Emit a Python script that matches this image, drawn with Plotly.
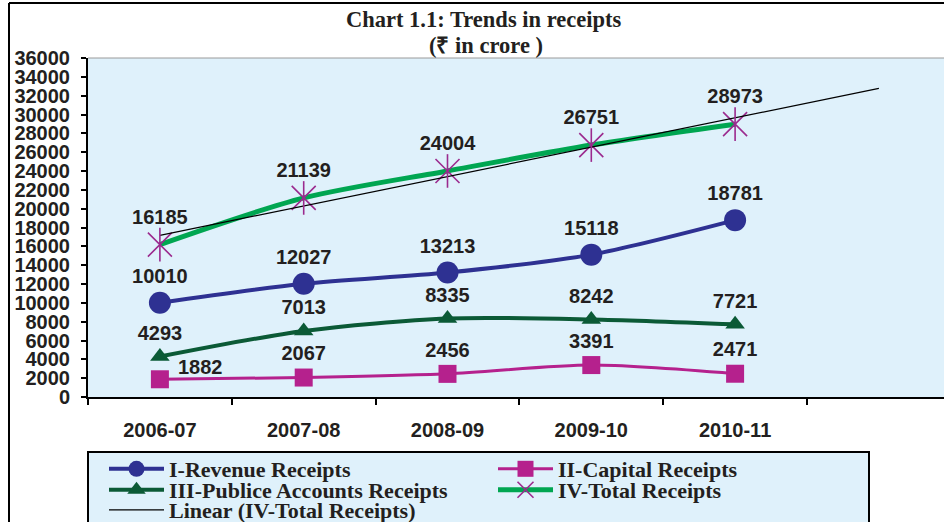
import numpy as np
import plotly.graph_objects as go

# ---------------- data ----------------
years = ["2006-07", "2007-08", "2008-09", "2009-10", "2010-11"]
forecast_slot = " "  # empty 6th category: the linear trend is forecast one period ahead
revenue = [10010, 12027, 13213, 15118, 18781]
capital = [1882, 2067, 2456, 3391, 2471]
public_acc = [4293, 7013, 8335, 8242, 7721]
total = [16185, 21139, 24004, 26751, 28973]
y_tick_values = list(range(0, 36001, 2000))
y_tick_labels = [str(v) for v in y_tick_values]

names = [
    "I-Revenue Receipts",
    "II-Capital Receipts",
    "III-Publice Accounts Receipts",
    "IV-Total Receipts",
    "Linear (IV-Total Receipts)",
]

# linear trend of total receipts (Excel style, periods 1..5, forecast 1 forward)
periods = np.arange(1, len(total) + 1)
slope, intercept = np.polyfit(periods, total, 1)
trend_periods = np.arange(1, len(total) + 2)
trend_vals = slope * trend_periods + intercept
categories = years + [forecast_slot]

# ---------------- layout helpers ----------------
W, H = 944, 522
L, T, R_EDGE, B_EDGE = 88, 58, 944, 397
PW, PH = R_EDGE - L, B_EDGE - T


def px(X):
    return (X - L) / PW


def py(Y):
    return (B_EDGE - Y) / PH


NAVY = "#2e3192"
MAGENTA = "#b5218d"
DKGREEN = "#0b5a36"
GREEN = "#00a651"
PURPLE = "#9b2a8e"
TXT = "#231f20"
BG = "#dff1fb"

label_font = dict(family="Liberation Sans, Arial", size=20, color=TXT, weight="bold")

fig = go.Figure()

fig.add_trace(go.Scatter(
    x=years, y=revenue, name=names[0], mode="lines+markers+text",
    line=dict(color=NAVY, width=4, shape="spline", smoothing=0.8),
    marker=dict(symbol="circle", size=22, color=NAVY),
    text=[str(v) for v in revenue], textposition="top center", textfont=label_font,
    legend="legend",
))
fig.add_trace(go.Scatter(
    x=years, y=capital, name=names[1], mode="lines+markers+text",
    line=dict(color=MAGENTA, width=3, shape="spline", smoothing=0.8),
    marker=dict(symbol="square", size=18, color=MAGENTA),
    text=[""] + [str(v) for v in capital[1:]],
    textposition="top center",
    textfont=label_font, legend="legend2",
))
fig.add_trace(go.Scatter(
    x=years, y=public_acc, name=names[2], mode="lines+markers+text",
    line=dict(color=DKGREEN, width=4, shape="spline", smoothing=0.8),
    marker=dict(symbol="triangle-up", size=17, color=DKGREEN),
    text=[str(v) for v in public_acc], textposition="top center", textfont=label_font,
    legend="legend3",
))
fig.add_trace(go.Scatter(
    x=years, y=total, name=names[3], mode="lines+markers+text",
    line=dict(color=GREEN, width=5, shape="spline", smoothing=0.8),
    marker=dict(symbol="x-thin", size=24, color=PURPLE, line=dict(width=1.6, color=PURPLE)),
    text=[str(v) for v in total], textposition="top center", textfont=label_font,
    legend="legend4",
))
fig.add_trace(go.Scatter(
    x=categories, y=trend_vals, name=names[4], mode="lines",
    line=dict(color="black", width=1.2),
    legend="legend5",
))
# vertical stroke of the total-receipts star marker
fig.add_trace(go.Scatter(
    x=years, y=total, mode="markers", showlegend=False, hoverinfo="skip",
    marker=dict(symbol="line-ns", size=24, color=PURPLE, line=dict(width=1.6, color=PURPLE)),
))

legend_font = dict(family="Liberation Serif, Times New Roman", size=22, color=TXT, weight="bold")
legend_base = dict(bgcolor="rgba(0,0,0,0)", borderwidth=0, font=legend_font,
                   orientation="h", xanchor="left", yanchor="middle",
                   itemwidth=55, itemsizing="trace")
legend_pos = {
    "legend": (104, 469),
    "legend2": (493, 469),
    "legend3": (104, 490),
    "legend4": (493, 490),
    "legend5": (104, 510),
}
legend_layout = {k: dict(legend_base, x=px(X), y=py(Y)) for k, (X, Y) in legend_pos.items()}

shapes = [
    # legend box
    dict(type="rect", xref="paper", yref="paper", x0=px(88), x1=px(869), y0=py(452), y1=py(540),
         fillcolor=BG, line=dict(color="black", width=2), layer="below"),
    # outer chart frame
    dict(type="line", xref="paper", yref="paper", x0=px(9), x1=px(960), y0=py(3), y1=py(3),
         line=dict(color="black", width=2)),
    dict(type="line", xref="paper", yref="paper", x0=px(9), x1=px(9), y0=py(3), y1=py(540),
         line=dict(color="black", width=2)),
    # top border of plot area
    dict(type="line", xref="paper", yref="paper", x0=0, x1=1.02, y0=1, y1=1,
         line=dict(color="#9a9a9a", width=1)),
]

title_font = dict(family="Liberation Serif, Times New Roman", size=22.5, color=TXT, weight="bold")
annotations = [
    dict(text="Chart 1.1: Trends in receipts", x=px(483), y=py(20), xref="paper", yref="paper",
         showarrow=False, font=title_font, xanchor="center", yanchor="middle"),
    dict(text="(₹ in crore )", x=px(486), y=py(45), xref="paper", yref="paper",
         showarrow=False, font=title_font, xanchor="center", yanchor="middle"),
    # first capital-receipts label sits to the upper right of its marker
    dict(text=str(capital[0]), x=years[0], y=capital[0], xref="x", yref="y",
         showarrow=False, font=label_font, xanchor="left", yanchor="middle",
         xshift=16, yshift=12),
]

tick_font = dict(family="Liberation Sans, Arial", size=20, color=TXT, weight="bold")

fig.update_layout(
    width=W, height=H,
    margin=dict(l=L, r=W - R_EDGE, t=T, b=H - B_EDGE, autoexpand=False),
    paper_bgcolor="white", plot_bgcolor=BG,
    showlegend=True,
    shapes=shapes, annotations=annotations,
    **legend_layout,
    xaxis=dict(
        type="category", categoryorder="array", categoryarray=categories,
        range=[-0.5, -0.5 + PW / 143.8], showline=True, linecolor="black", linewidth=2,
        ticks="outside", tickson="boundaries", ticklen=6, tickwidth=2, tickcolor="black",
        showgrid=False, zeroline=False, tickfont=tick_font, ticklabelstandoff=14,
        fixedrange=True, automargin=False,
    ),
    yaxis=dict(
        range=[0, 36000], tickvals=y_tick_values, ticktext=y_tick_labels,
        showline=True, linecolor="black", linewidth=2,
        ticks="outside", ticklen=5, tickwidth=2, tickcolor="black",
        showgrid=False, zeroline=False, tickfont=tick_font, ticklabelstandoff=7,
        fixedrange=True, automargin=False,
    ),
)

fig.write_html(
    "out.html",
    config={"displayModeBar": False},
    post_script="document.body.style.margin='0';document.body.style.overflow='hidden';",
)
